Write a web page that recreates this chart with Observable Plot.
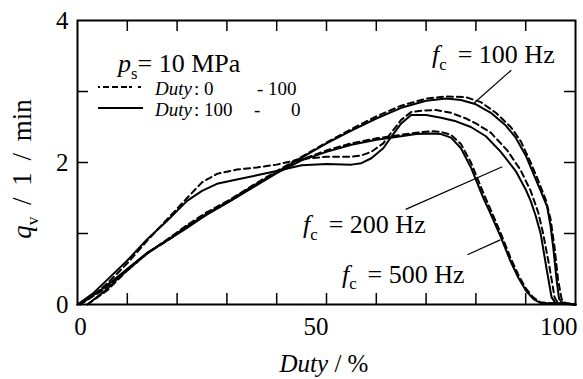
<!DOCTYPE html>
<html><head><meta charset="utf-8">
<script src="https://cdn.jsdelivr.net/npm/d3@7"></script>
<script src="https://cdn.jsdelivr.net/npm/@observablehq/plot@0.6"></script>
<style>body{margin:0;background:#fff} svg{display:block}</style>
</head><body><div id="chart"></div>
<script>
// fc = 100 Hz
const duty100Up = [2, 6, 10, 14, 18.7, 22, 26, 30.7, 35, 40, 45, 50, 55, 60, 65, 70, 74, 78, 81, 84, 87, 89, 91, 92.5, 94, 95, 95.8, 96.5, 97.2, 98, 100];
const q100Up    = [0, 0.2, 0.48, 0.72, 0.95, 1.12, 1.3, 1.48, 1.67, 1.88, 2.08, 2.28, 2.47, 2.65, 2.8, 2.9, 2.93, 2.92, 2.85, 2.7, 2.5, 2.3, 2.0, 1.75, 1.48, 1.2, 0.8, 0.35, 0.08, 0.02, 0];
const duty100Down = [2, 6, 10, 14, 18.7, 22, 26, 30.7, 35, 40, 45, 50, 55, 60, 65, 70, 74, 77, 80, 83, 86, 88, 90, 91.5, 93, 94.3, 95, 95.6, 96.2, 96.7, 97.5, 100];
const q100Down    = [0, 0.22, 0.5, 0.72, 0.94, 1.1, 1.27, 1.46, 1.65, 1.86, 2.07, 2.27, 2.45, 2.62, 2.77, 2.87, 2.9, 2.88, 2.82, 2.7, 2.52, 2.35, 2.1, 1.85, 1.6, 1.38, 1.1, 0.76, 0.35, 0.08, 0.02, 0];
// fc = 200 Hz
const duty200Up = [0, 3, 6, 10, 14, 18, 22, 25, 28, 32, 36, 40, 45, 50, 55, 57, 59, 61.4, 63, 65, 67, 69, 72, 75, 78, 80, 83, 86.3, 89, 91, 92.5, 93.5, 94.8, 95.8, 96.5, 100];
const q200Up    = [0, 0.12, 0.3, 0.58, 0.9, 1.2, 1.5, 1.72, 1.84, 1.9, 1.93, 1.97, 2.05, 2.08, 2.08, 2.1, 2.15, 2.27, 2.42, 2.6, 2.71, 2.73, 2.74, 2.7, 2.62, 2.55, 2.42, 2.17, 1.89, 1.6, 1.3, 1.0, 0.52, 0.1, 0.02, 0];
const duty200Down = [0, 3, 6, 10, 14, 18, 22, 25, 28, 32, 36, 40, 45, 50, 55, 57, 59, 61.4, 63, 65, 67, 70, 73, 76, 79, 82, 85, 88, 90, 91, 92, 93, 94.2, 95.2, 96, 100];
const q200Down    = [0, 0.15, 0.35, 0.62, 0.92, 1.18, 1.46, 1.6, 1.7, 1.76, 1.82, 1.88, 1.96, 1.98, 1.97, 1.99, 2.06, 2.2, 2.36, 2.55, 2.67, 2.67, 2.63, 2.58, 2.5, 2.37, 2.15, 1.88, 1.62, 1.46, 1.25, 1.0, 0.5, 0.1, 0.02, 0];
// fc = 500 Hz
const duty500Up = [0.5, 5, 10, 14, 18.7, 22, 26, 30.7, 35, 40, 45, 50, 55, 60, 65, 68, 71, 73, 75, 77, 79, 81.5, 83, 85, 87, 88.5, 90, 91.5, 93, 100];
const q500Up    = [0, 0.2, 0.48, 0.72, 0.93, 1.1, 1.28, 1.47, 1.66, 1.86, 2.04, 2.17, 2.27, 2.34, 2.39, 2.42, 2.44, 2.43, 2.39, 2.26, 2.0, 1.57, 1.33, 1.0, 0.65, 0.42, 0.23, 0.1, 0.03, 0];
const duty500Down = [0.5, 5, 10, 14, 18.7, 22, 26, 30.7, 35, 40, 45, 50, 55, 60, 65, 68, 71, 73, 75, 77, 79, 81.5, 83, 85, 87, 88.5, 90, 91.5, 93, 100];
const q500Down    = [0, 0.22, 0.5, 0.73, 0.93, 1.08, 1.27, 1.46, 1.64, 1.85, 2.03, 2.15, 2.25, 2.32, 2.37, 2.4, 2.41, 2.4, 2.35, 2.2, 1.93, 1.5, 1.27, 0.95, 0.6, 0.38, 0.2, 0.08, 0.02, 0];

// axis ticks and labels
const xMinorTicks = [10, 20, 30, 40, 50, 60, 70, 80, 90];
const xLabelFirst = [0];
const xLabelRest = [50, 100];
const yMinorTicks = [1, 2, 3];
const yLabels = [0, 2, 4];

// annotation leaders (data coords)
const leaderLabels = ["100 Hz", "200 Hz", "500 Hz"];
const leaderX1 = [87.1, 65.9, 78.3];
const leaderY1 = [3.30, 1.34, 0.70];
const leaderX2 = [79.6, 85.3, 84.9];
const leaderY2 = [2.835, 1.94, 0.91];
const labelX = [71.3, 45.4, 53.2];
const labelY = [3.39, 1.00, 0.30];

const series = [
  {key: "100up", dir: "up", duty: duty100Up, q: q100Up},
  {key: "100down", dir: "down", duty: duty100Down, q: q100Down},
  {key: "200up", dir: "up", duty: duty200Up, q: q200Up},
  {key: "200down", dir: "down", duty: duty200Down, q: q200Down},
  {key: "500up", dir: "up", duty: duty500Up, q: q500Up},
  {key: "500down", dir: "down", duty: duty500Down, q: q500Down}
];
const rows = series.flatMap(s => s.duty.map((d, i) => ({key: s.key, dir: s.dir, duty: d, q: s.q[i]})));
const leaders = leaderLabels.map((l, i) => ({l, x1: leaderX1[i], y1: leaderY1[i], x2: leaderX2[i], y2: leaderY2[i]}));

const FONT = "Liberation Serif";

const chart = Plot.plot({
  width: 583, height: 379,
  marginLeft: 77, marginRight: 8, marginTop: 20, marginBottom: 75,
  x: {domain: [0, 100], axis: null},
  y: {domain: [0, 4], axis: null},
  style: {fontFamily: FONT, background: "#fff", color: "#000"},
  marks: [
    Plot.line(rows.filter(d => d.dir === "down"), {x: "duty", y: "q", z: "key", stroke: "#000", strokeWidth: 2}),
    Plot.line(rows.filter(d => d.dir === "up"), {x: "duty", y: "q", z: "key", stroke: "#000", strokeWidth: 2, strokeDasharray: "6,4"}),
    Plot.tickX(xMinorTicks, {x: d => d, insetTop: 273, stroke: "#000", strokeWidth: 1.5}),
    Plot.tickX(xMinorTicks, {x: d => d, insetBottom: 273, stroke: "#000", strokeWidth: 1.5}),
    Plot.tickY(yMinorTicks, {y: d => d, insetRight: 487, stroke: "#000", strokeWidth: 1.5}),
    Plot.tickY(yMinorTicks, {y: d => d, insetLeft: 487, stroke: "#000", strokeWidth: 1.5}),
    Plot.frame({stroke: "#000", strokeWidth: 2}),
    Plot.text(yLabels, {y: d => d, text: d => String(d), frameAnchor: "left", textAnchor: "end", lineAnchor: "middle", dx: -9, fontSize: 25, fontFamily: FONT, fill: "#000"}),
    Plot.text(xLabelFirst, {x: d => d, text: d => String(d), frameAnchor: "bottom", textAnchor: "middle", lineAnchor: "middle", dx: 3, dy: 22, fontSize: 25, fontFamily: FONT, fill: "#000"}),
    Plot.text(xLabelRest, {x: d => d, text: d => String(d), frameAnchor: "bottom", textAnchor: "end", lineAnchor: "middle", dx: 2, dy: 22, fontSize: 25, fontFamily: FONT, fill: "#000"}),
    Plot.link(leaders, {x1: "x1", y1: "y1", x2: "x2", y2: "y2", stroke: "#000", strokeWidth: 1.2})
  ]
});

document.getElementById("chart").appendChild(chart);
d3.select(chart).selectAll("text").attr("font-family", FONT);

const sx = chart.scale("x"), sy = chart.scale("y");
const svg = d3.select(chart);
const g = svg.append("g").attr("font-family", FONT).attr("fill", "#000");

function rich(x, y, parts, size, anchor) {
  const t = g.append("text").attr("x", x).attr("y", y).attr("font-size", size).attr("text-anchor", anchor || "start");
  let shift = 0;
  for (const p of parts) {
    const ts = t.append("tspan").text(p.t);
    if (p.i) ts.attr("font-style", "italic");
    if (p.x != null) ts.attr("x", p.x);
    const target = p.sub ? size * 0.25 : 0;
    if (target !== shift) { ts.attr("dy", target - shift); shift = target; }
    if (p.dx) ts.attr("dx", p.dx);
    if (p.sub) ts.attr("font-size", size * 0.64);
  }
  return t;
}

// f_c annotations
leaderLabels.forEach((l, i) => {
  rich(sx.apply(labelX[i]), sy.apply(labelY[i]), [{t: "f", i: true}, {t: "c", sub: true}, {t: "= " + l, dx: 11}], 26);
});

// legend
rich(118, 72, [{t: "p", i: true}, {t: "s", sub: true}, {t: "= 10 MPa"}], 26);
g.append("line").attr("x1", 98).attr("x2", 143).attr("y1", 87).attr("y2", 87).attr("stroke", "#000").attr("stroke-width", 2).attr("stroke-dasharray", "2,3,6,3,6,3,6");
g.append("line").attr("x1", 98).attr("x2", 143).attr("y1", 108).attr("y2", 108).attr("stroke", "#000").attr("stroke-width", 2.2);
rich(155, 95, [{t: "Duty", i: true}, {t: ": 0", dx: 2}, {t: "- 100", x: 257}], 19);
rich(155, 116, [{t: "Duty", i: true}, {t: ": 100", dx: 2}, {t: "-", x: 254}, {t: "0", x: 291}], 19);

// axis titles
rich(324, 372, [{t: "Duty", i: true}, {t: " / %"}], 25, "middle");
const yt = rich(0, 0, [{t: "q", i: true}, {t: "v", sub: true}, {t: " / 1 / min"}], 27, "middle");
yt.attr("word-spacing", "5px").attr("transform", "translate(31,169) rotate(-90)");
</script>
</body></html>
